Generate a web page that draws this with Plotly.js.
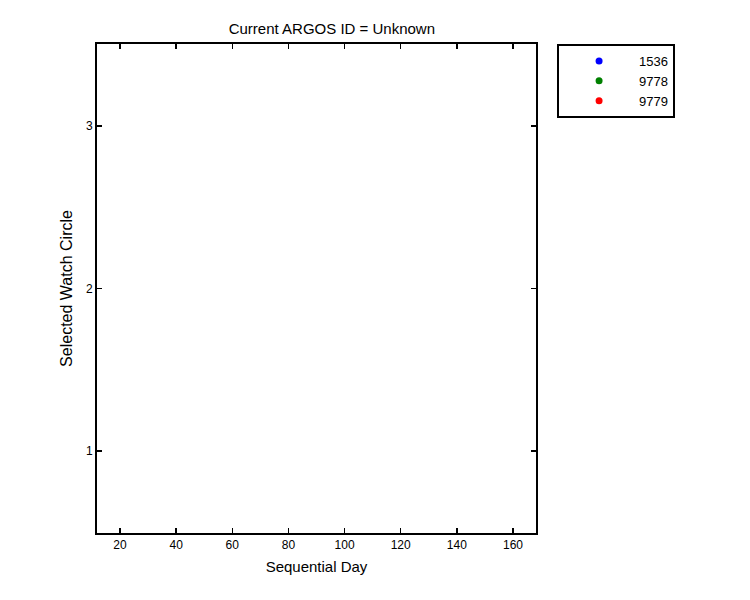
<!DOCTYPE html>
<html>
<head>
<meta charset="utf-8">
<script src="https://cdn.plot.ly/plotly-3.0.1.min.js"></script>
<style>html,body{margin:0;padding:0;background:#fff;}#chart{width:750px;height:600px;}</style>
</head>
<body>
<div id="chart"></div>
<script>
// Series (no data points fall inside the visible window; only legend entries show)
var seriesNames = ["1536", "9778", "9779"];
var seriesColors = ["#0000ff", "#008000", "#ff0000"];
var seriesDays = [[null], [null], [null]];
var seriesCircles = [[null], [null], [null]];
var xTicks = [20, 40, 60, 80, 100, 120, 140, 160];
var yTicks = [1, 2, 3];

var traces = seriesNames.map(function (n, i) {
  return {
    type: "scatter", mode: "markers", name: n,
    x: seriesDays[i], y: seriesCircles[i],
    marker: {color: seriesColors[i], size: 7},
    showlegend: true
  };
});

var fam = "Liberation Sans, Arial, sans-serif";
var axisBase = {
  showline: true, mirror: "ticks", linecolor: "#000", linewidth: 2,
  ticks: "inside", ticklen: 5, tickwidth: 1.5, tickcolor: "#000",
  showgrid: false, zeroline: false,
  tickfont: {family: fam, size: 12, color: "#000"}
};

var layout = {
  width: 750, height: 600,
  paper_bgcolor: "#fff", plot_bgcolor: "#fff",
  margin: {l: 97, r: 214, t: 44, b: 67},
  font: {family: fam, color: "#000"},
  title: {text: "Current ARGOS ID = Unknown", font: {family: fam, size: 15, color: "#000"},
          x: 0.535, xref: "paper", xanchor: "center", y: 1 - 29/600, yref: "container", yanchor: "middle"},
  xaxis: Object.assign({}, axisBase, {
    range: [11.8, 168.2], tickvals: xTicks, ticktext: xTicks.map(String),
    title: {text: "Sequential Day", font: {family: fam, size: 15, color: "#000"}, standoff: 10}
  }),
  yaxis: Object.assign({}, axisBase, {
    range: [0.497, 3.503], tickvals: yTicks, ticktext: yTicks.map(String),
    title: {text: "Selected Watch Circle", font: {family: fam, size: 16, color: "#000"}, standoff: 9}
  }),
  showlegend: true,
  legend: {
    x: 1.048, xanchor: "left", y: 1, yanchor: "top",
    bordercolor: "#000", borderwidth: 2, bgcolor: "#fff",
    font: {family: fam, size: 13, color: "#000"},
    itemwidth: 70, tracegroupgap: 0
  }
};

Plotly.newPlot("chart", traces, layout, {displayModeBar: false, staticPlot: true});
</script>
</body>
</html>
